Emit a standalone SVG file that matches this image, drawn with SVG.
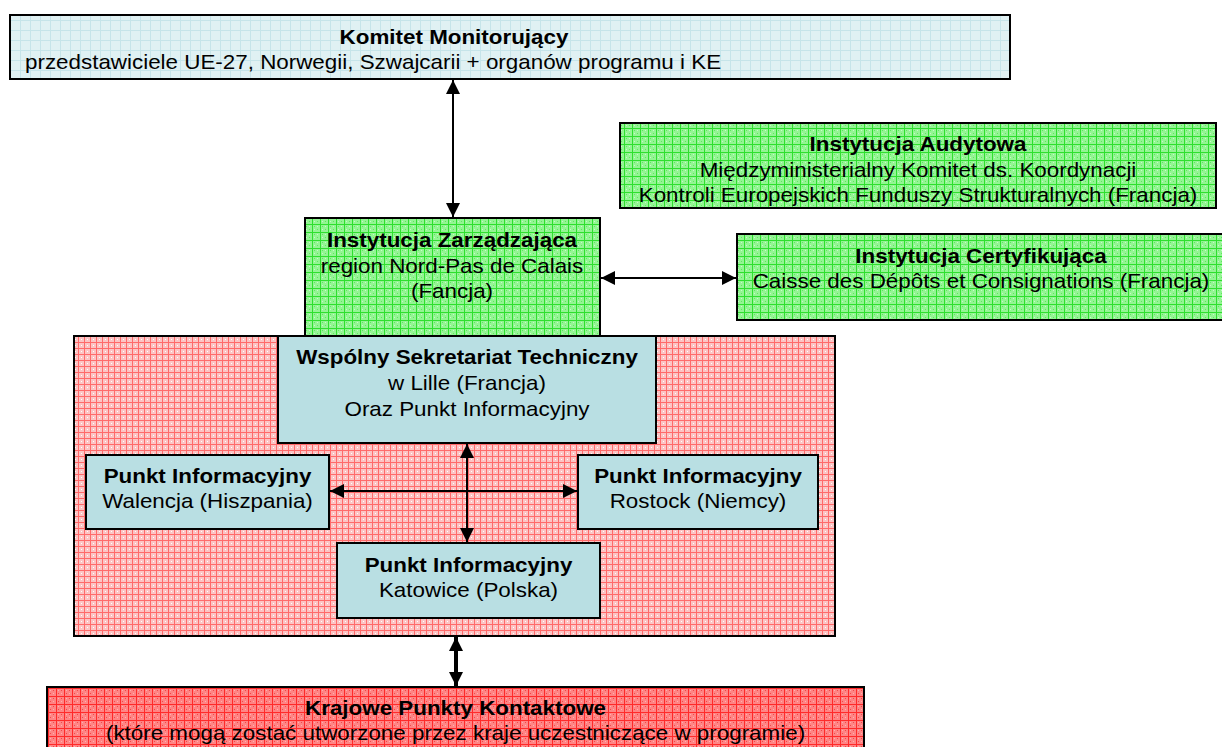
<svg xmlns="http://www.w3.org/2000/svg" width="1222" height="747" viewBox="0 0 1222 747">
<style>
.t{font-family:"Liberation Sans",Arial,sans-serif;font-size:20px;fill:#000;text-anchor:middle}
.s{text-anchor:start}
.b{font-weight:bold}
.box{stroke:#000;stroke-width:2}
.teal{fill:#b9dfe3}
.ln{stroke:#000;stroke-width:2;fill:none}
.thick{stroke-width:4}
</style>
<defs>
<pattern id="pBlue" width="10" height="10" patternUnits="userSpaceOnUse">
<rect width="10" height="10" fill="#e0f1f3"/>
<path d="M0 0.5H10M0.5 0V10" stroke="#c6e4e9" stroke-width="1"/>
</pattern>
<pattern id="pGreen" width="8" height="8" patternUnits="userSpaceOnUse">
<rect width="8" height="8" fill="#93f593"/>
<rect x="2" y="2" width="1" height="1" fill="#5ee85e"/>
<rect x="5" y="5" width="1" height="1" fill="#5ee85e"/>
<rect x="5" y="2" width="1" height="1" fill="#c8fac8"/>
<rect x="2" y="5" width="1" height="1" fill="#c8fac8"/>
<path d="M0 0.5H8M0.5 0V8" stroke="#2fdf2f" stroke-width="1"/>
</pattern>
<pattern id="pPink" width="6" height="6" patternUnits="userSpaceOnUse">
<rect width="6" height="6" fill="#fcc4c4"/>
<rect x="3" y="3" width="1" height="1" fill="#ffffff"/>
<path d="M0 0.5H6M0.5 0V6" stroke="#ff6a6a" stroke-width="1"/>
</pattern>
<pattern id="pRed" width="8" height="8" patternUnits="userSpaceOnUse">
<rect width="8" height="8" fill="#ff8484"/>
<rect x="2" y="2" width="1" height="1" fill="#ffb0b0"/>
<rect x="5" y="5" width="1" height="1" fill="#ffb0b0"/>
<rect x="5" y="2" width="1" height="1" fill="#f04848"/>
<rect x="2" y="5" width="1" height="1" fill="#f04848"/>
<path d="M0 0.5H8M0.5 0V8" stroke="#ff2a2a" stroke-width="1"/>
</pattern>
<marker id="ah" viewBox="0 0 14 14" refX="14" refY="7" markerWidth="14" markerHeight="14" markerUnits="userSpaceOnUse" orient="auto-start-reverse">
<path d="M0 0L14 7L0 14Z" fill="#000"/>
</marker>
</defs>

<g id="komitet">
<rect class="box" x="10" y="15" width="1000" height="64" fill="url(#pBlue)"/>
<text class="t b" transform="translate(454 0) scale(1.12 1)"><tspan x="0" y="44">Komitet Monitorujący</tspan></text>
<text class="t s" transform="translate(25 0) scale(1.12 1)"><tspan x="0" y="69">przedstawiciele UE-27, Norwegii, Szwajcarii + organów programu i KE</tspan></text>
</g>

<g id="audytowa">
<rect class="box" x="620" y="123" width="596" height="85" fill="url(#pGreen)"/>
<text class="t" transform="translate(918 0) scale(1.12 1)"><tspan class="b" x="0" y="151">Instytucja Audytowa</tspan><tspan x="0" y="177">Międzyministerialny Komitet ds. Koordynacji</tspan><tspan x="0" y="202">Kontroli Europejskich Funduszy Strukturalnych (Francja)</tspan></text>
</g>

<g id="zarzadzajaca">
<rect class="box" x="305" y="218" width="295" height="118" fill="url(#pGreen)"/>
<text class="t" transform="translate(452 0) scale(1.12 1)"><tspan class="b" x="0" y="247">Instytucja Zarządzająca</tspan><tspan x="0" y="273">region Nord-Pas de Calais</tspan><tspan x="0" y="298">(Fancja)</tspan></text>
</g>

<g id="certyfikujaca">
<rect class="box" x="737" y="234" width="500" height="86" fill="url(#pGreen)"/>
<text class="t" transform="translate(981 0) scale(1.12 1)"><tspan class="b" x="0" y="263">Instytucja Certyfikująca</tspan><tspan x="0" y="288">Caisse des Dépôts et Consignations (Francja)</tspan></text>
</g>

<g id="obszar">
<rect class="box" x="74" y="336" width="761" height="300" fill="url(#pPink)"/>
</g>

<g id="sekretariat">
<rect class="box teal" x="278" y="336" width="378" height="107"/>
<text class="t" transform="translate(467 0) scale(1.12 1)"><tspan class="b" x="0" y="364">Wspólny Sekretariat Techniczny</tspan><tspan x="0" y="390">w Lille (Francja)</tspan><tspan x="0" y="416">Oraz Punkt Informacyjny</tspan></text>
</g>

<g id="walencja">
<rect class="box teal" x="86" y="455" width="243" height="74"/>
<text class="t" transform="translate(207.5 0) scale(1.12 1)"><tspan class="b" x="0" y="483">Punkt Informacyjny</tspan><tspan x="0" y="508">Walencja (Hiszpania)</tspan></text>
</g>

<g id="rostock">
<rect class="box teal" x="578" y="455" width="240" height="74"/>
<text class="t" transform="translate(698 0) scale(1.12 1)"><tspan class="b" x="0" y="483">Punkt Informacyjny</tspan><tspan x="0" y="508">Rostock (Niemcy)</tspan></text>
</g>

<g id="katowice">
<rect class="box teal" x="337" y="543" width="263" height="75"/>
<text class="t" transform="translate(468.5 0) scale(1.12 1)"><tspan class="b" x="0" y="572">Punkt Informacyjny</tspan><tspan x="0" y="597">Katowice (Polska)</tspan></text>
</g>

<g id="krajowe">
<rect class="box" x="47" y="687" width="817" height="80" fill="url(#pRed)"/>
<text class="t" transform="translate(455.5 0) scale(1.12 1)"><tspan class="b" x="0" y="715">Krajowe Punkty Kontaktowe</tspan><tspan x="0" y="740">(które mogą zostać utworzone przez kraje uczestniczące w programie)</tspan></text>
</g>

<g id="connectors">
<path class="ln" d="M453 80V217" marker-start="url(#ah)" marker-end="url(#ah)"/>
<path class="ln" d="M601 278H736" marker-start="url(#ah)" marker-end="url(#ah)"/>
<path class="ln" d="M467 444V542" marker-start="url(#ah)" marker-end="url(#ah)"/>
<path class="ln" d="M330 491H577" marker-start="url(#ah)" marker-end="url(#ah)"/>
<path class="ln thick" d="M456 637V686" marker-start="url(#ah)" marker-end="url(#ah)"/>
</g>
</svg>
